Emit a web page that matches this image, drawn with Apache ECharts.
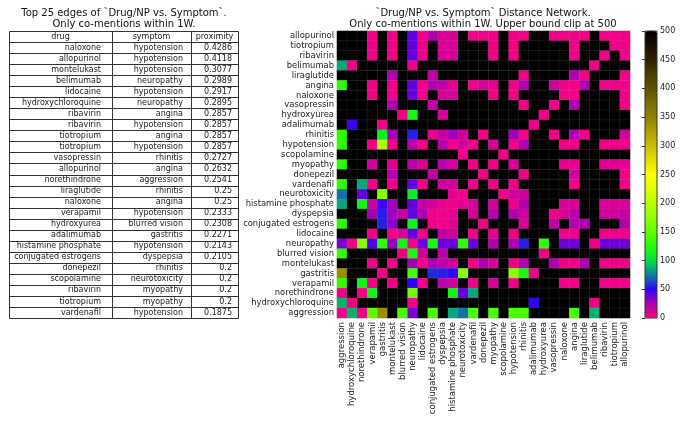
<!DOCTYPE html>
<html><head><meta charset="utf-8">
<style>html,body{margin:0;padding:0;background:#fff}#c{width:684px;height:422px}</style>
<script src="https://cdn.jsdelivr.net/npm/echarts@6/dist/echarts.min.js"></script>
</head><body><div id="c"></div>
<script>
const tableHeader = ['drug','symptom','proximity'];
const tableDrugs = ['naloxone','allopurinol','montelukast','belimumab','lidocaine','hydroxychloroquine','ribavirin','ribavirin','tiotropium','tiotropium','vasopressin','allopurinol','norethindrone','liraglutide','naloxone','verapamil','hydroxyurea','adalimumab','histamine phosphate','conjugated estrogens','donepezil','scopolamine','ribavirin','tiotropium','vardenafil'];
const tableSymptoms = ['hypotension','hypotension','hypotension','neuropathy','hypotension','neuropathy','angina','hypotension','angina','hypotension','rhinitis','angina','aggression','rhinitis','angina','hypotension','blurred vision','gastritis','hypotension','dyspepsia','rhinitis','neurotoxicity','myopathy','myopathy','hypotension'];
const tableProximity = ['0.4286','0.4118','0.3077','0.2989','0.2917','0.2895','0.2857','0.2857','0.2857','0.2857','0.2727','0.2632','0.2541','0.25','0.25','0.2333','0.2308','0.2271','0.2143','0.2105','0.2','0.2','0.2','0.2','0.1875'];

const colLabels = ['aggression','hydroxychloroquine','norethindrone','verapamil','gastritis','montelukast','blurred vision','neuropathy','lidocaine','conjugated estrogens','dyspepsia','histamine phosphate','neurotoxicity','vardenafil','donepezil','myopathy','scopolamine','hypotension','rhinitis','adalimumab','hydroxyurea','vasopressin','naloxone','angina','liraglutide','belimumab','ribavirin','tiotropium','allopurinol'];
const rowLabels = ['allopurinol','tiotropium','ribavirin','belimumab','liraglutide','angina','naloxone','vasopressin','hydroxyurea','adalimumab','rhinitis','hypotension','scopolamine','myopathy','donepezil','vardenafil','neurotoxicity','histamine phosphate','dyspepsia','conjugated estrogens','lidocaine','neuropathy','blurred vision','montelukast','gastritis','verapamil','norethindrone','hydroxychloroquine','aggression'];

const rowAllopurinol = [500,500,500,4,500,4,500,40,4,25,12,12,500,4,4,4,500,4,4,500,500,4,4,4,4,500,4,4,4];
const rowTiotropium = [500,500,500,4,500,4,500,40,4,500,12,12,500,500,500,4,500,4,500,500,500,500,500,4,500,500,500,4,4];
const rowRibavirin = [500,500,500,4,500,4,500,40,4,500,12,12,500,500,500,4,500,4,500,500,500,500,500,4,500,500,4,500,4];
const rowBelimumab = [85,4,500,500,500,500,500,4,500,500,500,500,500,500,500,500,500,500,500,500,500,500,500,500,500,4,500,500,500];
const rowLiraglutide = [500,500,500,500,500,25,500,500,500,20,500,500,500,500,500,500,500,500,4,500,500,500,500,25,4,500,500,500,4];
const rowAngina = [130,500,500,4,500,4,500,40,4,25,20,8,500,4,12,8,500,4,25,500,500,15,4,4,25,500,4,4,4];
const rowNaloxone = [500,500,500,4,500,4,500,40,4,500,12,12,500,500,500,4,500,4,500,500,500,500,4,4,500,500,500,500,4];
const rowVasopressin = [500,500,500,500,500,25,500,500,500,20,500,500,500,500,500,500,500,500,4,500,500,4,500,25,500,500,500,500,4];
const rowHydroxyurea = [500,500,500,500,500,500,4,120,500,500,12,500,500,500,500,500,500,500,500,500,4,500,500,500,500,500,500,500,500];
const rowAdalimumab = [500,48,500,500,4,500,500,500,500,500,500,500,500,500,500,500,500,500,500,4,500,500,500,500,500,500,500,500,500];
const rowRhinitis = [130,500,500,500,110,28,500,56,500,8,18,28,15,500,4,500,500,28,4,500,500,4,500,25,4,500,500,500,15];
const rowHypotension = [130,500,500,4,190,4,500,22,4,500,22,4,15,4,500,12,500,4,25,500,500,500,4,4,500,500,4,4,4];
const rowScopolamine = [500,500,500,500,500,500,500,500,500,500,500,500,4,500,500,500,4,500,500,500,500,500,500,500,500,500,500,500,500];
const rowMyopathy = [130,500,500,14,500,8,500,22,12,500,22,14,500,4,500,4,500,12,500,500,500,500,8,8,500,500,10,10,10];
const rowDonepezil = [500,500,500,500,500,25,500,500,500,20,500,500,500,500,4,500,500,500,4,500,500,500,500,15,500,500,500,500,4];
const rowVardenafil = [130,500,85,4,500,4,500,40,4,500,14,14,500,4,500,4,500,4,500,500,500,500,500,4,500,500,500,500,4];
const rowNeurotoxicity = [72,500,40,500,170,500,500,110,500,500,500,8,4,500,500,500,4,15,15,500,500,500,500,500,500,500,500,500,500];
const rowHistamine = [85,500,115,18,48,28,500,40,18,14,6,4,8,14,500,14,500,4,25,500,500,500,12,12,500,500,12,12,12];
const rowDyspepsia = [500,500,500,28,56,28,18,40,25,4,4,8,500,14,500,22,500,25,15,500,500,4,12,22,500,500,15,15,18];
const rowConjugated = [130,500,500,500,56,32,500,115,500,4,4,8,500,500,4,500,500,500,12,500,500,20,500,25,25,500,500,500,25];
const rowLidocaine = [500,500,500,4,500,4,12,40,4,500,20,14,500,4,500,8,500,4,500,500,500,500,4,4,500,500,4,4,4];
const rowNeuropathy = [36,4,170,44,130,30,115,4,38,120,38,38,130,38,500,25,500,25,56,500,130,500,38,38,500,4,38,38,38];
const rowBlurredVision = [130,500,500,500,500,500,4,120,14,500,22,500,500,500,500,500,500,500,500,500,4,500,500,500,500,500,500,500,500];
const rowMontelukast = [500,500,500,4,500,4,500,28,4,25,20,14,500,4,25,12,500,4,25,500,500,25,4,4,25,500,4,4,4];
const rowGastritis = [340,500,500,500,4,500,500,140,500,58,56,50,170,500,500,500,500,170,120,4,500,500,500,500,500,500,500,500,500];
const rowVerapamil = [130,500,115,4,500,4,500,50,4,500,22,14,500,4,500,12,500,4,500,500,500,500,4,4,500,500,4,4,4];
const rowNorethindrone = [4,500,4,115,500,500,500,160,500,500,500,115,40,85,500,500,500,500,500,500,500,500,500,500,500,500,500,500,500];
const rowHydroxychloroquine = [88,4,500,500,500,500,500,4,500,500,500,500,500,500,500,500,500,500,500,50,500,500,500,500,500,4,500,500,500];
const rowAggression = [4,88,4,150,340,500,140,36,500,140,500,85,72,140,500,140,500,140,140,500,500,500,500,140,500,88,500,500,500];

const matrix = [rowAllopurinol,rowTiotropium,rowRibavirin,rowBelimumab,rowLiraglutide,rowAngina,rowNaloxone,rowVasopressin,rowHydroxyurea,rowAdalimumab,rowRhinitis,rowHypotension,rowScopolamine,rowMyopathy,rowDonepezil,rowVardenafil,rowNeurotoxicity,rowHistamine,rowDyspepsia,rowConjugated,rowLidocaine,rowNeuropathy,rowBlurredVision,rowMontelukast,rowGastritis,rowVerapamil,rowNorethindrone,rowHydroxychloroquine,rowAggression];
const colorbarTicks = [0,500,50];
const palette = ['#ff0080','#b000b0','#3000ff','#0c80a0','#00e040','#20ff00','#60ff00','#90ff00','#b8ff00','#e0ff00','#ffff00','#e0e000','#c8c000','#b0a000','#908000','#787000','#605000','#484000','#302000','#181000','#000000'];

const font = '"DejaVu Sans"';
const heatData = [];
matrix.forEach((row, r) => row.forEach((v, c) => heatData.push([c, r, v])));

const T = {left:9, top:31, cols:[9,112,191,238], rowH:287/26};
const g = [];
g.push({type:'rect', shape:{x:T.left+.5, y:T.top+.5, width:229, height:287}, style:{fill:'#fff', stroke:'#333', lineWidth:1}, silent:true});
for (let i=1;i<26;i++) { const y=Math.round(T.top+i*T.rowH)+.5; g.push({type:'line', shape:{x1:T.left,y1:y,x2:238,y2:y}, style:{stroke:'#333',lineWidth:1}, silent:true}); }
[112,191].forEach(x=>g.push({type:'line', shape:{x1:x+.5,y1:T.top,x2:x+.5,y2:T.top+287}, style:{stroke:'#333',lineWidth:1}, silent:true}));
const txt = (s,x,y,a)=>g.push({type:'text', x, y, silent:true, style:{text:s, font:'8px '+font, fill:'#222', textAlign:a, textVerticalAlign:'middle'}});
tableHeader.forEach((h,i)=>txt(h,(T.cols[i]+T.cols[i+1])/2,T.top+T.rowH/2,'center'));
tableDrugs.forEach((d,i)=>{
  const y=T.top+(i+1.5)*T.rowH;
  txt(d,101,y,'right'); txt(tableSymptoms[i],183,y,'right'); txt(tableProximity[i],232,y,'right');
});

const chart = echarts.init(document.getElementById('c'), null, {renderer:'canvas'});
chart.setOption({
  animation:false,
  backgroundColor:'#fff',
  title:[
    {text:'Top 25 edges of `Drug/NP vs. Symptom`.\nOnly co-mentions within 1W.', left:119, top:3, textAlign:'center',
     textStyle:{fontFamily:font,fontSize:10,fontWeight:'normal',color:'#111',lineHeight:11}},
    {text:'`Drug/NP vs. Symptom` Distance Network.\nOnly co-mentions within 1W. Upper bound clip at 500', left:478, top:3, textAlign:'center',
     textStyle:{fontFamily:font,fontSize:10,fontWeight:'normal',color:'#111',lineHeight:11}}
  ],
  grid:[
    {left:337, top:31, width:293, height:287, show:false},
    {left:645, top:31, width:12, height:287, show:true, backgroundColor:'transparent', borderColor:'#333', borderWidth:1, z:5}
  ],
  xAxis:[
    {type:'category', gridIndex:0, data:colLabels, position:'bottom', axisLine:{show:false}, axisTick:{show:false}, splitLine:{show:false},
     axisLabel:{rotate:90, interval:0, margin:4, fontFamily:font, fontSize:8.5, color:'#222'}},
    {type:'value', gridIndex:1, min:0, max:1, show:false}
  ],
  yAxis:[
    {type:'category', gridIndex:0, data:rowLabels, inverse:true, axisLine:{show:false}, axisTick:{show:false}, splitLine:{show:false},
     axisLabel:{interval:0, margin:3, fontFamily:font, fontSize:8.4, color:'#222'}},
    {type:'value', gridIndex:1, position:'right', min:colorbarTicks[0], max:colorbarTicks[1], interval:colorbarTicks[2], z:6,
     axisLine:{show:false}, splitLine:{show:false},
     axisTick:{show:true, inside:true, length:3, lineStyle:{color:'#333'}},
     axisLabel:{margin:3, fontFamily:font, fontSize:8, color:'#222'}}
  ],
  visualMap:{type:'continuous', min:0, max:500, seriesIndex:0, left:645, top:31, itemWidth:12, itemHeight:287, text:null, showLabel:false, calculable:false, realtime:false, padding:0, textStyle:{fontSize:0,color:'transparent'}, inRange:{color:palette}},
  series:[
    {type:'heatmap', xAxisIndex:0, yAxisIndex:0, data:heatData, progressive:0, itemStyle:{borderColor:'rgba(170,170,170,0.22)', borderWidth:0.5}, emphasis:{disabled:true}}
  ],
  graphic:g
});
</script></body></html>
